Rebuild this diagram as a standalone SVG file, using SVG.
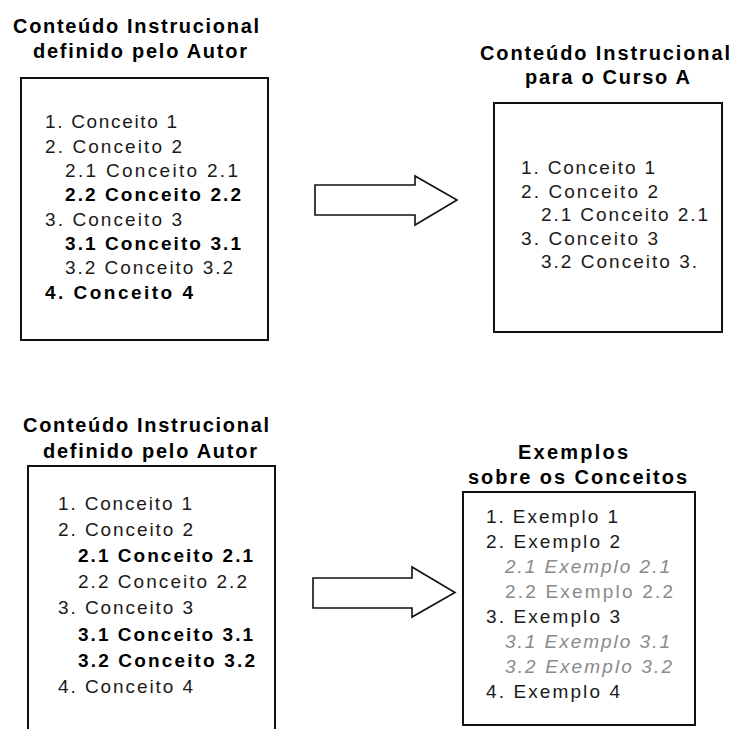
<svg xmlns="http://www.w3.org/2000/svg" width="732" height="729" viewBox="0 0 732 729">
  <style>
    .box { fill: #fff; stroke: #111; stroke-width: 2; shape-rendering: crispEdges; }
    .arrow { fill: #fff; stroke: #111; stroke-width: 1.6; stroke-linejoin: miter; }
    .title { font-family: "Liberation Sans", Arial, sans-serif; font-size: 20px; font-weight: bold; fill: #000; }
    .item { font-family: "Liberation Sans", Arial, sans-serif; font-size: 19px; fill: #1a1a1a; }
    .b { font-weight: bold; fill: #000; }
    .grey { fill: #8a8a8a; }
    .it { font-style: italic; }
  </style>
  <rect width="732" height="729" fill="#fff"/>

  <!-- author's instructional content (top) -->
  <g id="autor-topo">
    <text class="title" x="13" y="33" textLength="246">Conteúdo Instrucional</text>
    <text class="title" x="33" y="58" textLength="214">definido pelo Autor</text>
    <rect class="box" x="21" y="78" width="247" height="262"/>
    <text class="item" x="45" y="128" textLength="132">1. Conceito 1</text>
    <text class="item" x="45" y="152.5" textLength="137">2. Conceito 2</text>
    <text class="item" x="65" y="177" textLength="173">2.1 Conceito 2.1</text>
    <text class="item b" x="65" y="201" textLength="176">2.2 Conceito 2.2</text>
    <text class="item" x="45" y="225.5" textLength="137">3. Conceito 3</text>
    <text class="item b" x="65" y="250" textLength="176">3.1 Conceito 3.1</text>
    <text class="item" x="65" y="274" textLength="168">3.2 Conceito 3.2</text>
    <text class="item b" x="45" y="298.5" textLength="148">4. Conceito 4</text>
  </g>

  <!-- content for course A -->
  <g id="curso-a">
    <text class="title" x="480" y="60" textLength="250">Conteúdo Instrucional</text>
    <text class="title" x="525" y="84" textLength="165">para o Curso A</text>
    <rect class="box" x="494" y="103" width="228" height="229"/>
    <text class="item" x="521" y="174" textLength="134">1. Conceito 1</text>
    <text class="item" x="521" y="197.5" textLength="137">2. Conceito 2</text>
    <text class="item" x="541" y="221" textLength="167">2.1 Conceito 2.1</text>
    <text class="item" x="521" y="244.5" textLength="137">3. Conceito 3</text>
    <text class="item" x="541" y="268" textLength="156">3.2 Conceito 3.</text>
  </g>

  <!-- author's instructional content (bottom) -->
  <g id="autor-base">
    <text class="title" x="23" y="432" textLength="246">Conteúdo Instrucional</text>
    <text class="title" x="43" y="458" textLength="214">definido pelo Autor</text>
    <rect class="box" x="28" y="466" width="247" height="280"/>
    <text class="item" x="58" y="510" textLength="134">1. Conceito 1</text>
    <text class="item" x="58" y="536" textLength="135">2. Conceito 2</text>
    <text class="item b" x="78" y="562" textLength="175">2.1 Conceito 2.1</text>
    <text class="item" x="78" y="588" textLength="169">2.2 Conceito 2.2</text>
    <text class="item" x="58" y="614" textLength="135">3. Conceito 3</text>
    <text class="item b" x="78" y="641" textLength="175">3.1 Conceito 3.1</text>
    <text class="item b" x="78" y="667" textLength="177">3.2 Conceito 3.2</text>
    <text class="item" x="58" y="693" textLength="135">4. Conceito 4</text>
  </g>

  <!-- examples about the concepts -->
  <g id="exemplos">
    <text class="title" x="518" y="459" textLength="110">Exemplos</text>
    <text class="title" x="468" y="484" textLength="219">sobre os Conceitos</text>
    <rect class="box" x="463" y="492" width="232" height="233"/>
    <text class="item" x="486" y="523" textLength="132">1. Exemplo 1</text>
    <text class="item" x="486" y="548" textLength="134">2. Exemplo 2</text>
    <text class="item grey it" x="505" y="573" textLength="165">2.1 Exemplo 2.1</text>
    <text class="item grey" x="505" y="598" textLength="168">2.2 Exemplo 2.2</text>
    <text class="item" x="486" y="623" textLength="134">3. Exemplo 3</text>
    <text class="item grey it" x="505" y="648" textLength="165">3.1 Exemplo 3.1</text>
    <text class="item grey it" x="505" y="673" textLength="167">3.2 Exemplo 3.2</text>
    <text class="item" x="486" y="698" textLength="134">4. Exemplo 4</text>
  </g>

  <!-- block arrows -->
  <g id="conectores">
    <polygon class="arrow" points="315,185 415,185 415,176 457,200 415,225 415,215 315,215"/>
    <polygon class="arrow" points="313,578 412,578 412,567 455,592.5 412,617 412,608 313,608"/>
  </g>
</svg>
